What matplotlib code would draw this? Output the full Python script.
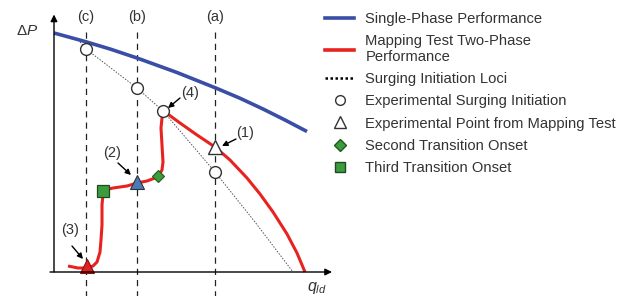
import matplotlib
matplotlib.use("Agg")
import matplotlib.pyplot as plt
from matplotlib.lines import Line2D

plt.rcParams['font.family'] = ['Liberation Sans', 'DejaVu Sans']
plt.rcParams['mathtext.fontset'] = 'custom'
plt.rcParams['mathtext.rm'] = 'Liberation Sans'
plt.rcParams['mathtext.it'] = 'Liberation Sans:italic'

# ---- data (q normalised flow, dP normalised pressure rise) ----
single_q = [0.000, 0.124, 0.224, 0.332, 0.492, 0.652, 0.744, 0.836, 0.924, 1.012]
single_dp = [0.956, 0.922, 0.892, 0.856, 0.798, 0.734, 0.695, 0.652, 0.608, 0.562]

red_q = [0.056, 0.096, 0.132, 0.156, 0.172, 0.184, 0.188, 0.192, 0.192, 0.196,
         0.204, 0.236, 0.292, 0.332, 0.372, 0.404, 0.420, 0.432, 0.436, 0.432,
         0.428, 0.432, 0.444,
         0.504, 0.572, 0.644, 0.704, 0.772, 0.824, 0.876, 0.932, 0.972, 1.004]
red_dp = [0.024, 0.016, 0.016, 0.024, 0.040, 0.080, 0.128, 0.188, 0.268, 0.312,
          0.328, 0.336, 0.344, 0.356, 0.364, 0.376, 0.388, 0.408, 0.440, 0.508,
          0.576, 0.616, 0.640,
          0.596, 0.548, 0.500, 0.448, 0.376, 0.312, 0.240, 0.152, 0.076, 0.000]

loci_q = [0.104, 0.128, 0.332, 0.436, 0.644, 0.804, 0.956]
loci_dp = [0.920, 0.892, 0.736, 0.644, 0.400, 0.200, 0.000]

surge_q = [0.128, 0.332, 0.436, 0.644]
surge_dp = [0.892, 0.736, 0.644, 0.400]

map_pt_q, map_pt_dp = [0.644], [0.500]          # (1)
blue_tri_q, blue_tri_dp = [0.332], [0.360]      # (2)
red_tri_q, red_tri_dp = [0.132], [0.024]        # (3)
diamond_q, diamond_dp = [0.416], [0.384]
square_q, square_dp = [0.196], [0.324]

cases = ['(c)', '(b)', '(a)']
case_q = [0.128, 0.332, 0.644]

callouts = ['(4)', '(1)', '(2)', '(3)']
callout_text_xy = [(0.544, 0.716), (0.764, 0.556), (0.232, 0.476), (0.064, 0.168)]
callout_from = [(0.504, 0.696), (0.728, 0.532), (0.256, 0.436), (0.072, 0.104)]
callout_to = [(0.456, 0.656), (0.672, 0.504), (0.308, 0.388), (0.116, 0.052)]

legend_labels = ['Single-Phase Performance', 'Mapping Test Two-Phase\nPerformance',
                 'Surging Initiation Loci', 'Experimental Surging Initiation',
                 'Experimental Point from Mapping Test', 'Second Transition Onset',
                 'Third Transition Onset']

BLUE = '#3a4ea6'
RED = '#e8231f'
GREEN = '#3c9c3c'
EDGE = '#333333'
TXT = '#333333'

fig = plt.figure(figsize=(6.25, 2.96), dpi=100)
ax = fig.add_axes([0, 0, 1, 1])
ax.set_xlim(-54 / 250, (625 - 54) / 250)
ax.set_ylim((272 - 296) / 250, 272 / 250)
ax.axis('off')

# axes with arrows
ax.annotate('', xy=(0, 1.03), xytext=(0, 0),
            arrowprops=dict(arrowstyle='-|>', color='black', lw=1.0,
                            mutation_scale=10, shrinkA=0, shrinkB=0))
ax.annotate('', xy=(1.112, 0), xytext=(-0.016, 0),
            arrowprops=dict(arrowstyle='-|>', color='black', lw=1.0,
                            mutation_scale=10, shrinkA=0, shrinkB=0))
ax.text(-0.108, 0.965, r'$\Delta P$', fontsize=11, color=TXT, ha='center', va='center')
ax.text(1.05, -0.062, r'$q_{ld}$', fontsize=11.5, color=TXT, ha='center', va='center')

# dashed verticals
for lab, q in zip(cases, case_q):
    ax.plot([q, q], [-0.1, 0.976], ls=(0, (5, 4)), color='#222222', lw=0.9)
    ax.text(q, 1.02, lab, fontsize=10.5, color=TXT, ha='center', va='center')

ax.plot(single_q, single_dp, color=BLUE, lw=2.6, solid_capstyle='butt',
        solid_joinstyle='round')
ax.plot(loci_q, loci_dp, color='#555555', lw=0.7, ls=(0, (1.5, 1.5)))
ax.plot(red_q, red_dp, color=RED, lw=2.2, solid_joinstyle='round', solid_capstyle='butt')

ax.plot(surge_q, surge_dp, 'o', ms=8.5, mfc='white', mec=EDGE, mew=1.0)
ax.plot(map_pt_q, map_pt_dp, '^', ms=9.5, mfc='white', mec=EDGE, mew=1.0)
ax.plot(blue_tri_q, blue_tri_dp, '^', ms=9.5, mfc='#4a7ab8', mec=EDGE, mew=0.8)
ax.plot(red_tri_q, red_tri_dp, '^', ms=9.5, mfc='#e02020', mec='#8a1010', mew=0.8)
ax.plot(diamond_q, diamond_dp, 'D', ms=6.5, mfc=GREEN, mec='#1f5a1f', mew=0.8)
ax.plot(square_q, square_dp, 's', ms=8.5, mfc=GREEN, mec='#1f4a1f', mew=0.9)

for lab, txy, p0, p1 in zip(callouts, callout_text_xy, callout_from, callout_to):
    ax.text(txy[0], txy[1], lab, fontsize=10.5, color=TXT, ha='center', va='center')
    ax.annotate('', xy=p1, xytext=p0,
                arrowprops=dict(arrowstyle='-|>', color='black', lw=1.0,
                                mutation_scale=8, shrinkA=0, shrinkB=0))

handles = [
    Line2D([], [], color=BLUE, lw=2.6),
    Line2D([], [], color=RED, lw=2.6),
    Line2D([], [], color='black', lw=1.8, ls=(0, (1, 1))),
    Line2D([], [], ls='none', marker='o', ms=7, mfc='white', mec=EDGE),
    Line2D([], [], ls='none', marker='^', ms=8, mfc='white', mec=EDGE),
    Line2D([], [], ls='none', marker='D', ms=6, mfc=GREEN, mec='#1f5a1f'),
    Line2D([], [], ls='none', marker='s', ms=7, mfc=GREEN, mec='#1f4a1f'),
]
leg = fig.legend(handles, legend_labels, loc='upper left',
                 bbox_to_anchor=(325 / 625, 1 - 12 / 296), frameon=False,
                 fontsize=10.6, labelspacing=0.55, handlelength=2.0,
                 handletextpad=0.75, borderpad=0, borderaxespad=0)
for t in leg.get_texts():
    t.set_color(TXT)

fig.savefig('out.png', dpi=100)
